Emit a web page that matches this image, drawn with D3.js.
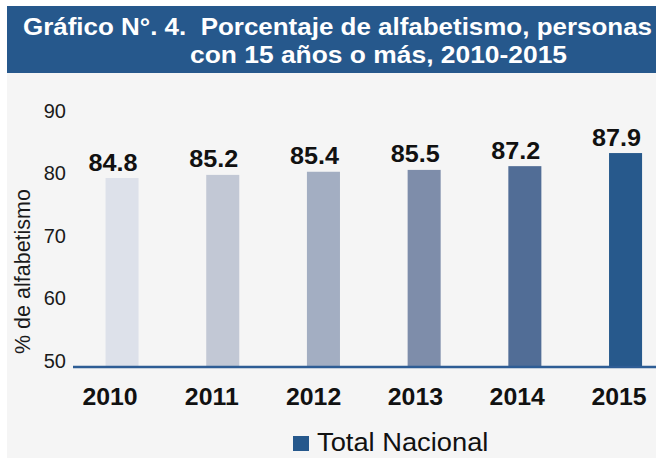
<!DOCTYPE html>
<html>
<head>
<meta charset="utf-8">
<script src="https://cdn.jsdelivr.net/npm/d3@7.9.0/dist/d3.min.js"></script>
<style>
  html, body { margin: 0; padding: 0; background: #fff; }
  svg { display: block; font-family: "Liberation Sans", Arial, sans-serif; }
</style>
</head>
<body>
<div id="chart"></div>
<script>
// data
const years = ['2010', '2011', '2012', '2013', '2014', '2015'];
const alfabetismo = [84.8, 85.2, 85.4, 85.5, 87.2, 87.9];     // data labels
const barLevel = [80.3, 80.8, 81.3, 81.6, 82.2, 84.3];        // bar tops as drawn against the axis
const yTicks = [50, 60, 70, 80, 90];
const titleLines = ['Gráfico N°. 4.  Porcentaje de alfabetismo, personas', 'con 15 años o más, 2010-2015'];
const yTitle = '% de alfabetismo';
const legendLabel = 'Total Nacional';

const width = 656;
const height = 458;
const barColors = ['#dde1ea', '#c2c8d5', '#a3aec2', '#7e8daa', '#516d96', '#27598c'];
const blue = '#26588c';

const svg = d3.select('#chart')
  .append('svg')
  .attr('width', width)
  .attr('height', height);

// background panels
svg.append('rect')
  .attr('x', 7).attr('y', 73)
  .attr('width', width - 7).attr('height', height - 73)
  .attr('fill', '#f5f5f5');

svg.append('rect')
  .attr('x', 7).attr('y', 6)
  .attr('width', width - 7).attr('height', 67)
  .attr('fill', blue);

// title
const titlePos = [{ x: 23, y: 35, len: 629 }, { x: 190, y: 63, len: 377 }];
svg.append('g')
  .selectAll('text')
  .data(titleLines)
  .join('text')
  .attr('x', (d, i) => titlePos[i].x)
  .attr('y', (d, i) => titlePos[i].y)
  .attr('textLength', (d, i) => titlePos[i].len)
  .attr('lengthAdjust', 'spacingAndGlyphs')
  .style('white-space', 'pre')
  .attr('fill', '#fff')
  .attr('font-size', 23.5)
  .attr('font-weight', 'bold')
  .text(d => d);

// scales
const x = d3.scaleBand()
  .domain(years)
  .range([71.7, 675.9])
  .paddingInner(0.672)
  .paddingOuter(0.336);

// category labels sit on their own, slightly offset grid
const xLabel = d3.scaleBand()
  .domain(years)
  .range([59.1, 669.9]);

const y = d3.scaleLinear()
  .domain([50, 90])
  .range([367, 117.5]);

const color = d3.scaleOrdinal()
  .domain(years)
  .range(barColors);

// y axis labels (no line, no ticks)
const yAxis = svg.append('g')
  .attr('transform', 'translate(70, 0)')
  .call(d3.axisLeft(y).tickValues(yTicks).tickSize(0).tickPadding(4));
yAxis.select('.domain').remove();
yAxis.selectAll('text')
  .attr('font-size', 20)
  .attr('font-family', '"Liberation Sans", Arial, sans-serif')
  .attr('fill', '#1a1a1a')
  .attr('dy', '0em');

// y title
svg.append('text')
  .attr('transform', 'translate(30, 271.5) rotate(-90)')
  .attr('text-anchor', 'middle')
  .attr('font-size', 21.5)
  .attr('fill', '#1a1a1a')
  .text(yTitle);

// bars
svg.append('g')
  .selectAll('rect')
  .data(years)
  .join('rect')
  .attr('x', d => x(d))
  .attr('width', x.bandwidth())
  .attr('y', (d, i) => y(barLevel[i]))
  .attr('height', (d, i) => y(50) - y(barLevel[i]))
  .attr('fill', d => color(d));

// data labels
svg.append('g')
  .selectAll('text')
  .data(years)
  .join('text')
  .attr('transform', (d, i) => `translate(${x(d) + x.bandwidth() / 2 - 9}, ${y(barLevel[i]) - 7.5}) scale(1.05, 1)`)
  .attr('text-anchor', 'middle')
  .attr('font-size', 24)
  .attr('font-weight', 'bold')
  .attr('fill', '#111')
  .text((d, i) => alfabetismo[i].toFixed(1));

// baseline
svg.append('line')
  .attr('x1', 73).attr('x2', width)
  .attr('y1', y(50)).attr('y2', y(50))
  .attr('stroke', '#2e5d95')
  .attr('stroke-width', 2.5);

// x axis labels
const xAxis = svg.append('g')
  .attr('transform', `translate(0, ${y(50)})`)
  .call(d3.axisBottom(xLabel).tickSize(0).tickPadding(0));
xAxis.select('.domain').remove();
xAxis.selectAll('text')
  .attr('dy', 0)
  .attr('y', 0)
  .attr('transform', 'translate(0, 38) scale(1.08, 1)')
  .attr('font-size', 23)
  .attr('font-weight', 'bold')
  .attr('font-family', '"Liberation Sans", Arial, sans-serif')
  .attr('fill', '#111');

// legend
const legend = svg.append('g').attr('transform', 'translate(293, 436)');
legend.append('rect')
  .attr('width', 16).attr('height', 15)
  .attr('fill', blue);
legend.append('text')
  .attr('transform', 'translate(24, 15) scale(1.05, 1)')
  .attr('font-size', 26)
  .attr('fill', '#111')
  .text(legendLabel);
</script>
</body>
</html>
